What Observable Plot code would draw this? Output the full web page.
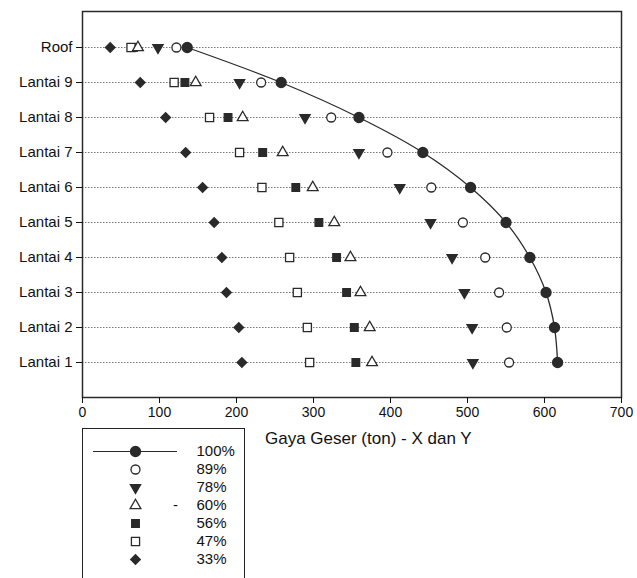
<!DOCTYPE html>
<html>
<head>
<meta charset="utf-8">
<script src="https://cdn.jsdelivr.net/npm/d3@7"></script>
<script src="https://cdn.jsdelivr.net/npm/@observablehq/plot@0.6"></script>
<style>
  html, body { margin: 0; padding: 0; background: #fff; }
  #wrap { position: relative; width: 637px; height: 578px; overflow: hidden; font-family: Arial, "Liberation Sans", sans-serif; color: #111; }
  #legend { position: absolute; left: 82px; top: 428px; width: 163px; height: 170px; border: 1.5px solid #222; box-sizing: border-box; background: #fff; }
  #xtitle { position: absolute; left: 265px; top: 429px; font-size: 17px; white-space: nowrap; }
</style>
</head>
<body>
<div id="wrap">
  <div id="chart"></div>
  <div id="xtitle">Gaya Geser (ton) - X dan Y</div>
  <div id="legend"></div>
</div>
<script>
const floors = ["Roof","Lantai 9","Lantai 8","Lantai 7","Lantai 6","Lantai 5","Lantai 4","Lantai 3","Lantai 2","Lantai 1"];
const xTicks = [0,100,200,300,400,500,600,700];
const seriesNames = ["100%","89%","78%","60%","56%","47%","33%"];
const v100 = [136,258,359,442,504,550,581,602,613,617];
const v89  = [122,232,323,396,453,494,523,541,551,554];
const v78  = [98,204,289,359,412,452,480,496,506,507];
const v60  = [72,147,208,260,299,327,348,361,373,376];
const v56  = [66,133,189,234,277,307,330,343,353,355];
const v47  = [63,119,165,204,233,255,269,279,292,295];
const v33  = [36,75,108,134,156,171,181,187,203,207];

const ink = "#2a2a2a";
const triangleDown = {
  draw(context, size) {
    const y = -Math.sqrt(size / (Math.sqrt(3) * 3));
    context.moveTo(0, -y * 2);
    context.lineTo(-Math.sqrt(3) * y, y);
    context.lineTo(Math.sqrt(3) * y, y);
    context.closePath();
  }
};
const styles = {
  "100%": {symbol: "circle", fill: ink, stroke: ink, r: 5},
  "89%":  {symbol: "circle", fill: "white", stroke: ink, r: 4.5},
  "78%":  {symbol: triangleDown, fill: ink, stroke: ink, r: 3.8},
  "60%":  {symbol: "triangle", fill: "white", stroke: ink, r: 4},
  "56%":  {symbol: "square", fill: ink, stroke: ink, r: 4.3},
  "47%":  {symbol: "square", fill: "white", stroke: ink, r: 4.6},
  "33%":  {symbol: "diamond2", fill: ink, stroke: ink, r: 4.3}
};
const valuesBy = {"100%": v100, "89%": v89, "78%": v78, "60%": v60, "56%": v56, "47%": v47, "33%": v33};
const rows = s => floors.map((f, i) => ({floor: f, value: valuesBy[s][i]}));
const dotMark = s => Plot.dot(rows(s), {x: "value", y: "floor", ...styles[s], strokeWidth: 1.3});

const chart = Plot.plot({
  width: 637, height: 430,
  marginTop: 11, marginLeft: 82, marginRight: 16, marginBottom: 33,
  style: {fontFamily: 'Arial, "Liberation Sans", sans-serif', fontSize: "14px", color: "#111", background: "white"},
  x: {domain: [0, 700], ticks: xTicks, tickSize: 6, tickPadding: 4, label: null, tickFormat: d3.format("d")},
  y: {type: "point", domain: floors, padding: 1, tickSize: 6, tickPadding: 4, label: null},
  marks: [
    Plot.ruleY(floors, {stroke: "#777", strokeWidth: 1, strokeDasharray: "1.5,1.5"}),
    Plot.frame({stroke: ink, strokeWidth: 1.5}),
    Plot.axisY({tickSize: 6, tickPadding: 4, fontSize: 15, label: null}),
    Plot.axisX({ticks: xTicks, tickSize: 6, tickPadding: 4, fontSize: 14, label: null, tickFormat: d3.format("d")}),
    Plot.line(rows("100%"), {x: "value", y: "floor", stroke: ink, strokeWidth: 1.3, curve: "catmull-rom"}),
    dotMark("56%"),
    dotMark("47%"),
    dotMark("33%"),
    dotMark("60%"),
    dotMark("78%"),
    dotMark("89%"),
    dotMark("100%")
  ]
});
document.getElementById("chart").appendChild(chart);

// Legend
const legendRows = seriesNames.map(s => ({name: s}));
const legend = Plot.plot({
  width: 160, height: 150,
  marginTop: 19, marginBottom: 18, marginLeft: 0, marginRight: 0,
  style: {fontFamily: 'Arial, "Liberation Sans", sans-serif', fontSize: "15px", color: "#111", background: "transparent"},
  x: {domain: [0, 160], axis: null},
  y: {type: "point", domain: seriesNames, padding: 0, axis: null},
  marks: [
    Plot.ruleY(["100%"], {x1: 10, x2: 94, stroke: ink, strokeWidth: 1.2}),
    ...seriesNames.map(s => Plot.dot([{name: s}], {x: () => 52, y: "name", ...styles[s], strokeWidth: 1.3})),
    Plot.text(legendRows, {x: () => 113, y: "name", text: "name", textAnchor: "start", fill: "#111", fontSize: 15}),
    Plot.text([{name: "60%"}], {x: () => 92, y: "name", text: () => "-", fill: "#111", fontSize: 15})
  ]
});
document.getElementById("legend").appendChild(legend);
</script>
</body>
</html>
